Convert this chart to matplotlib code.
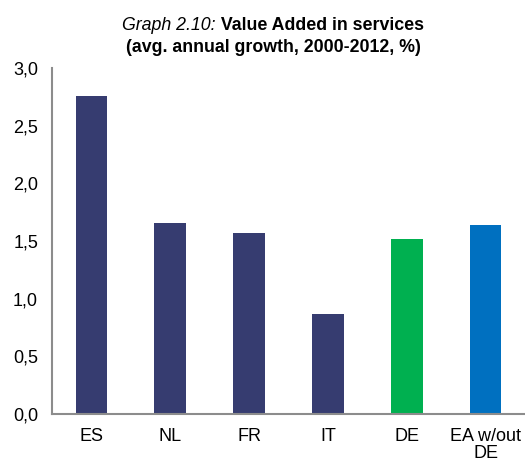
import matplotlib
matplotlib.use("Agg")
import matplotlib.pyplot as plt

categories = ["ES", "NL", "FR", "IT", "DE", "EA w/out\nDE"]
values = [2.76, 1.66, 1.57, 0.87, 1.52, 1.64]
colors = ["#363C70", "#363C70", "#363C70", "#363C70", "#00B050", "#0070C0"]
yticks = [0.0, 0.5, 1.0, 1.5, 2.0, 2.5, 3.0]
ytick_labels = ["0,0", "0,5", "1,0", "1,5", "2,0", "2,5", "3,0"]

plt.rcParams['font.family'] = ['Liberation Sans', 'DejaVu Sans']

fig = plt.figure(figsize=(5.25, 4.62), dpi=100)
ax = fig.add_axes([52/525, 1 - 414/462, 1 - 52/525, (414 - 68)/462])

x = list(range(len(categories)))
ax.bar(x, values, width=0.4, color=colors, edgecolor="none", zorder=2)
ax.set_xlim(-0.5, len(categories) - 0.5)
ax.set_ylim(0, 3.0)
ax.set_yticks(yticks)
ax.set_yticklabels(ytick_labels, fontsize=13)
ax.set_xticks(x)
ax.set_xticklabels(categories, fontsize=13, linespacing=1.0)
ax.tick_params(axis='both', length=0, colors="#000000")
ax.tick_params(axis='y', pad=10)
ax.tick_params(axis='x', pad=10)
for s in ["top", "right"]:
    ax.spines[s].set_visible(False)
for s in ["left", "bottom"]:
    ax.spines[s].set_color("#8C8C8C")
    ax.spines[s].set_linewidth(1.5)

# Title with mixed styles
fig.canvas.draw()
r = fig.canvas.get_renderer()
t1 = fig.text(0, 1 - 26/462, "Graph 2.10:", fontsize=12.75, style="italic", va="center", ha="left")
t2 = fig.text(0, 1 - 26/462, " Value Added in services", fontsize=12.75, weight="bold", va="center", ha="left")
w1 = t1.get_window_extent(r).width
w2 = t2.get_window_extent(r).width
cx = 273
start = cx - (w1 + w2) / 2
t1.set_x(start / 525)
t2.set_x((start + w1) / 525)
fig.text(cx / 525, 1 - 47/462, "(avg. annual growth, 2000-2012, %)", fontsize=12.75,
         weight="bold", va="center", ha="center")

fig.savefig("out.png", dpi=100)
